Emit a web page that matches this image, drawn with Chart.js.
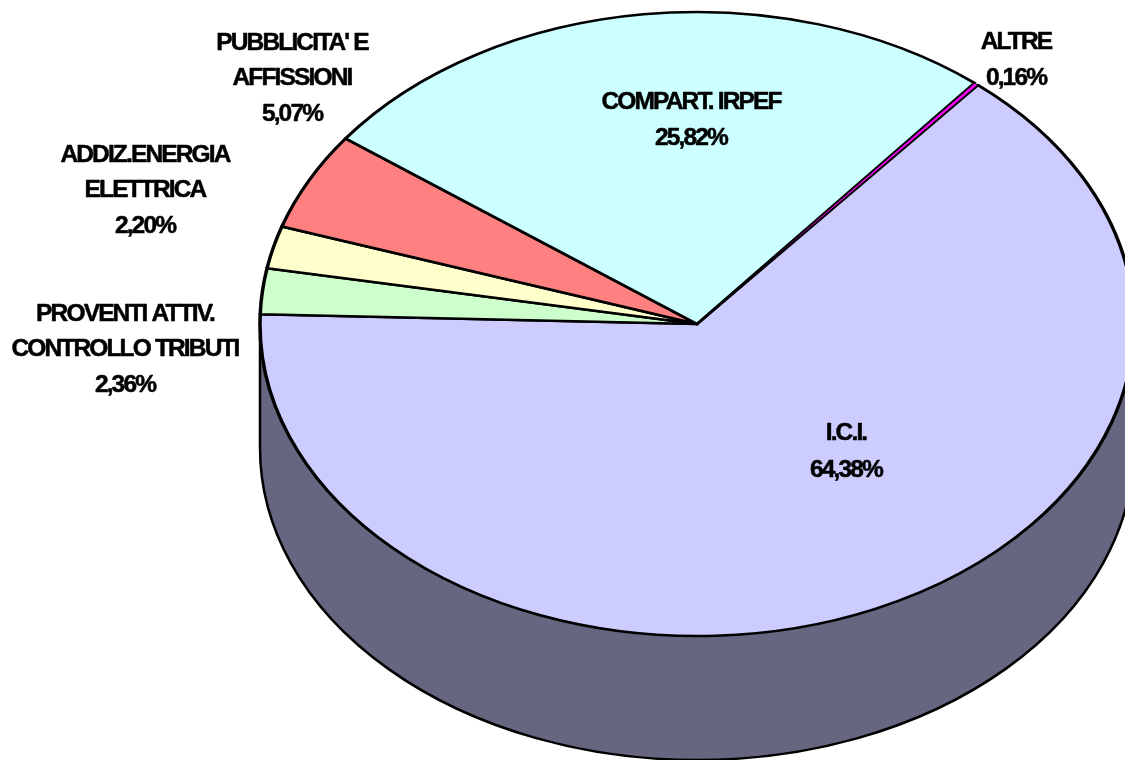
<!DOCTYPE html>
<html lang="it">
<head>
    <meta charset="UTF-8">
    <title>Entrate tributarie</title>
    <style>
        html, body { margin: 0; padding: 0; background: #fff; overflow: hidden; }
        canvas { display: block; }
    </style>
</head>
<body>
    <canvas id="pieChart" width="1125" height="760"></canvas>

    <script src="https://cdn.jsdelivr.net/npm/chart.js"></script>
    <script>
        const categories = [
            ['I.C.I.'],
            ['PROVENTI ATTIV.', 'CONTROLLO TRIBUTI'],
            ['ADDIZ.ENERGIA', 'ELETTRICA'],
            ["PUBBLICITA' E", 'AFFISSIONI'],
            ['COMPART. IRPEF'],
            ['ALTRE']
        ];
        const percentages = [64.38, 2.36, 2.20, 5.07, 25.82, 0.16];
        const sliceColors = ['#CCCCFF', '#CCFFCC', '#FFFFCC', '#FF8080', '#CCFFFF', '#FF00FF'];
        const sliceBorders = [3.5, 3.5, 3.5, 3.5, 3.5, 1.2];

        // Where each label sits (centre x, y of the first line, gap between lines)
        const labelX = [846, 125, 145, 292, 691, 1016];
        const labelY = [433, 314, 155, 43, 102, 42];
        const labelGap = [37, 35.5, 35.5, 35.5, 36.5, 36];

        // The pie is flattened to look 3D, these are the view settings
        const flatten = 312 / 437;
        const depth = 124;
        const wallColor = '#666680';

        const pie3d = {
            id: 'pie3d',
            beforeDatasetsDraw(chart) {
                const ctx = chart.ctx;
                const arc = chart.getDatasetMeta(0).data[0];
                const rx = arc.outerRadius;
                const ry = rx * flatten;

                // side wall under the top face
                ctx.save();
                ctx.beginPath();
                ctx.ellipse(arc.x, arc.y + depth, rx, ry, 0, Math.PI, 0, true);
                ctx.lineTo(arc.x + rx, arc.y);
                ctx.lineTo(arc.x - rx, arc.y);
                ctx.closePath();
                ctx.fillStyle = wallColor;
                ctx.fill();
                ctx.lineWidth = 2.5;
                ctx.strokeStyle = '#000';
                ctx.stroke();
                ctx.restore();

                // squash the slices around the centre
                ctx.save();
                ctx.translate(arc.x, arc.y);
                ctx.scale(1, flatten);
                ctx.translate(-arc.x, -arc.y);
            },
            afterDatasetsDraw(chart) {
                const ctx = chart.ctx;
                ctx.restore();

                ctx.save();
                ctx.font = 'bold 24.5px "Liberation Sans", Arial, sans-serif';
                ctx.letterSpacing = '-1.85px';
                ctx.fillStyle = '#000';
                ctx.strokeStyle = '#000';
                ctx.lineWidth = 0.5;
                ctx.lineJoin = 'round';
                ctx.textAlign = 'center';
                ctx.textBaseline = 'middle';
                categories.forEach((lines, i) => {
                    const pct = percentages[i].toFixed(2).replace('.', ',') + '%';
                    lines.concat(pct).forEach((line, n) => {
                        const y = labelY[i] + n * labelGap[i];
                        ctx.fillText(line, labelX[i], y);
                        ctx.strokeText(line, labelX[i], y); // original text looks heavier than plain bold
                    });
                });
                ctx.restore();
            }
        };

        new Chart(document.getElementById('pieChart'), {
            type: 'pie',
            data: {
                labels: categories.map(c => c.join(' ')),
                datasets: [{
                    data: percentages,
                    backgroundColor: sliceColors,
                    borderColor: '#000',
                    borderWidth: sliceBorders,
                    borderJoinStyle: 'round',
                    clip: false
                }]
            },
            options: {
                responsive: false,
                animation: false,
                rotation: 40,
                radius: 437,
                layout: { padding: { left: 269, bottom: 112 } },
                plugins: {
                    legend: { display: false },
                    tooltip: { enabled: false }
                }
            },
            plugins: [pie3d]
        });
    </script>
</body>
</html>
